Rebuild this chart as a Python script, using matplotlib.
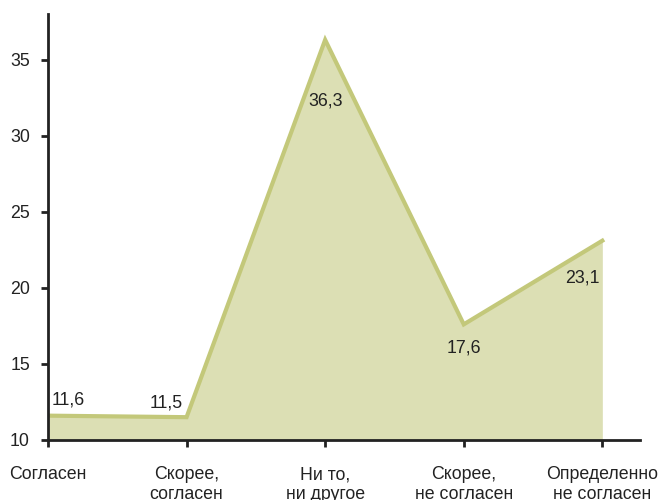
import matplotlib
matplotlib.use("Agg")
import matplotlib.pyplot as plt

categories = ["Согласен", "Скорее,\nсогласен", "Ни то,\nни другое",
              "Скорее,\nне согласен", "Определенно\nне согласен"]
values = [11.6, 11.5, 36.3, 17.6, 23.1]
value_labels = ["11,6", "11,5", "36,3", "17,6", "23,1"]
y_ticks = [10, 15, 20, 25, 30, 35]

plt.rcParams['font.family'] = ['Liberation Sans', 'DejaVu Sans']
text_color = "#222222"
fs = 12.8

fig = plt.figure(figsize=(6.59, 5.0), dpi=100)
ax = fig.add_axes([0.0728, 0.12, 0.898, 0.852])

x = list(range(len(values)))
ax.fill_between(x, values, 10, color="#dcdfb4", linewidth=0, zorder=1)
ax.plot(x, values, color="#c3c87a", linewidth=3, solid_joinstyle="miter", zorder=2)

ax.set_xlim(0, 4.27)
ax.set_ylim(10, 38.0)
ax.set_xticks(x)
ax.set_xticklabels(categories, fontsize=fs, color=text_color, linespacing=1.2)
ax.set_yticks(y_ticks)
ax.set_yticklabels([str(t) for t in y_ticks], fontsize=fs, color=text_color)

for s in ["top", "right"]:
    ax.spines[s].set_visible(False)
for s in ["left", "bottom"]:
    ax.spines[s].set_linewidth(2)
    ax.spines[s].set_color("#222222")
    ax.spines[s].set_zorder(3)

ax.tick_params(axis="y", length=5, width=2, color="#222222", pad=8)
ax.tick_params(axis="x", length=5, width=2, color="#222222", pad=14)

# value annotations in pixel offsets around each point
offsets = [(20, 16), (-20, 14), (0, -61), (0, -24), (-20, -37)]
for xi, v, lab, (dx, dy) in zip(x, values, value_labels, offsets):
    ax.annotate(lab, (xi, v), xytext=(dx, dy), textcoords="offset pixels",
                ha="center", va="center", fontsize=fs, color=text_color, zorder=4)

fig.savefig("out.png", dpi=100)
